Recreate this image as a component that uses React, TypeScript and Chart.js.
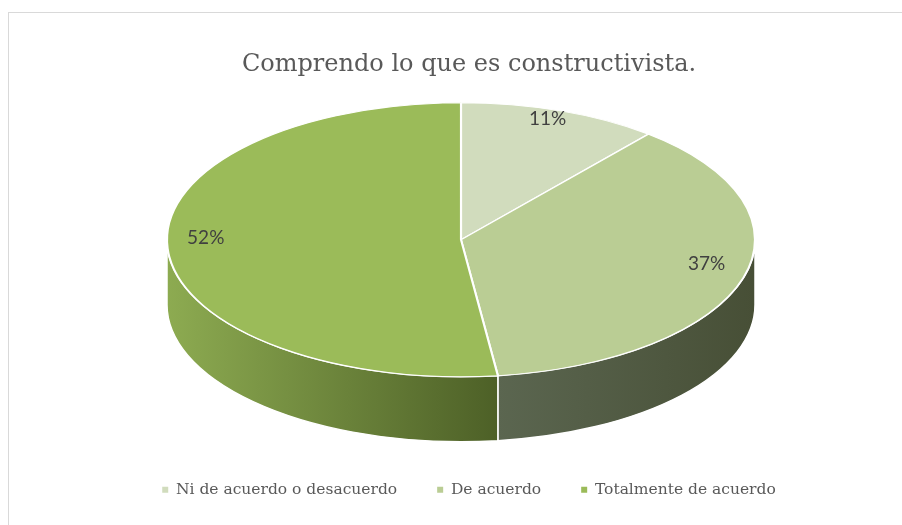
import React, { useEffect, useRef } from "react";
import { Chart, registerables } from "chart.js";

Chart.register(...registerables);

// ---- data ----
const TITLE = "Comprendo lo que es constructivista.";
const categories = ["Ni de acuerdo o desacuerdo", "De acuerdo", "Totalmente de acuerdo"];
const values = [11, 37, 52];

// ---- styles ----
const topColors = ["#d1dcbd", "#bacd94", "#9bbb59"];
const sideColors = [
  ["#a9b596", "#8b9676"],
  ["#5b6650", "#474f36"],
  ["#8dab51", "#4d6027"],
];
const W = 902;
const H = 525;
const RADIUS = 137; // vertical radius of the top face
const ASPECT = 2.146; // horizontal stretch of the top face
const DEPTH = 65; // thickness of the pie
const OFF_X = -8;
const OFF_Y = -20;
const LABEL_R = 0.87;
const LABEL_DY = -9;

function geometry(chart: any) {
  const meta = chart.getDatasetMeta(0);
  const arcs = meta.data as any[];
  if (!arcs.length) return null;
  const p = arcs[0].getProps(["x", "y", "outerRadius"], true);
  return {
    arcs,
    x: p.x,
    y: p.y,
    cx: p.x + OFF_X,
    cy: p.y + OFF_Y,
    ry: p.outerRadius,
    rx: p.outerRadius * ASPECT,
  };
}

const borderPlugin = {
  id: "frame",
  beforeDraw(chart: any) {
    const ctx = chart.ctx;
    ctx.save();
    ctx.strokeStyle = "#d9d9d9";
    ctx.lineWidth = 1;
    ctx.strokeRect(8.5, 12.5, W, H);
    ctx.restore();
  },
};

const pie3d = {
  id: "pie3d",
  beforeDatasetsDraw(chart: any) {
    const g = geometry(chart);
    if (!g) return;
    const ctx = chart.ctx;
    const { cx, cy, rx, ry } = g;
    g.arcs.forEach((arc: any, i: number) => {
      const { startAngle, endAngle } = arc.getProps(["startAngle", "endAngle"], true);
      const s = Math.max(startAngle, 0);
      const e = Math.min(endAngle, Math.PI);
      if (e <= s) return;
      const xa = cx + rx * Math.cos(s);
      const xb = cx + rx * Math.cos(e);
      const grad = ctx.createLinearGradient(Math.min(xa, xb), 0, Math.max(xa, xb), 0);
      grad.addColorStop(0, sideColors[i][0]);
      grad.addColorStop(1, sideColors[i][1]);
      ctx.save();
      ctx.beginPath();
      ctx.ellipse(cx, cy, rx, ry, 0, s, e, false);
      ctx.ellipse(cx, cy + DEPTH, rx, ry, 0, e, s, true);
      ctx.closePath();
      ctx.fillStyle = grad;
      ctx.fill();
      ctx.strokeStyle = "#ffffff";
      ctx.lineWidth = 1.5;
      ctx.stroke();
      ctx.restore();
    });
    ctx.save();
    ctx.translate(cx, cy);
    ctx.scale(ASPECT, 1);
    ctx.translate(-g.x, -g.y);
  },
  afterDatasetsDraw(chart: any) {
    const ctx = chart.ctx;
    ctx.restore();
    const g = geometry(chart);
    if (!g) return;
    const { cx, cy, rx, ry } = g;
    const total = values.reduce((a, b) => a + b, 0);
    ctx.save();
    ctx.font = "19px Lato";
    ctx.fillStyle = "#404040";
    ctx.textAlign = "center";
    ctx.textBaseline = "middle";
    g.arcs.forEach((arc: any, i: number) => {
      const { startAngle, endAngle } = arc.getProps(["startAngle", "endAngle"], true);
      const mid = (startAngle + endAngle) / 2;
      const lx = cx + rx * LABEL_R * Math.cos(mid);
      const ly = cy + ry * LABEL_R * Math.sin(mid) + LABEL_DY;
      const pct = Math.round((values[i] / total) * 100);
      ctx.fillText(pct + "%", lx, ly);
    });
    ctx.restore();
  },
};

export default function App() {
  const ref = useRef<HTMLCanvasElement | null>(null);
  useEffect(() => {
    if (!ref.current) return;
    const chart = new Chart(ref.current, {
      type: "pie",
      data: {
        labels: categories,
        datasets: [
          {
            data: values,
            backgroundColor: topColors,
            borderColor: "#ffffff",
            borderWidth: 1,
            radius: RADIUS,
            clip: false as any,
          } as any,
        ],
      },
      options: {
        responsive: false,
        animation: false,
        events: [],
        layout: { padding: { left: 36, right: 0, top: 0, bottom: 17.5 } },
        plugins: {
          tooltip: { enabled: false },
          title: {
            display: true,
            text: TITLE,
            color: "#595959",
            font: { family: "'DejaVu Serif'", size: 24, weight: "normal", lineHeight: 1 },
            padding: { top: 53, bottom: 0.5 },
          },
          legend: {
            display: true,
            position: "bottom",
            align: "center",
            labels: {
              color: "#595959",
              font: { family: "'DejaVu Serif'", size: 15.5 },
              usePointStyle: true,
              pointStyle: "rect",
              boxWidth: 6,
              boxHeight: 6,
              padding: 40,
              generateLabels: (c: any) =>
                (Chart as any).overrides.pie.plugins.legend.labels
                  .generateLabels(c)
                  .map((l: any) => ({ ...l, lineWidth: 0, strokeStyle: "rgba(0,0,0,0)" })),
            },
          },
        },
      },
      plugins: [borderPlugin, pie3d],
    });
    return () => chart.destroy();
  }, []);
  return (
    <div style={{ position: "absolute", left: 0, top: 0, width: W, height: H }}>
      <canvas ref={ref} width={W} height={H} style={{ display: "block", width: W, height: H }} />
    </div>
  );
}
